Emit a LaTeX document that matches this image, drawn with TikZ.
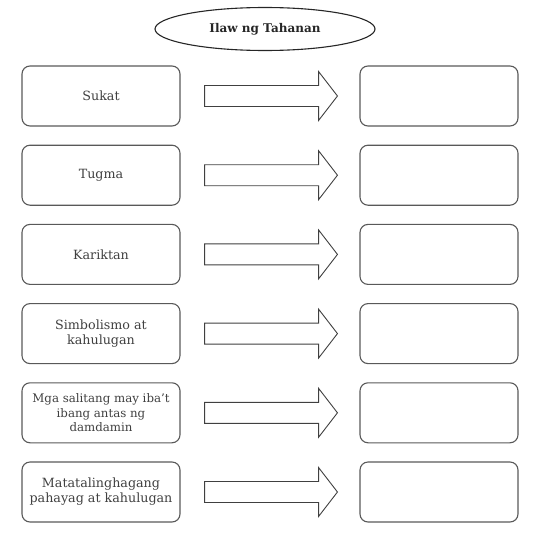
\documentclass[tikz,border=0pt]{standalone}
\usepackage{fontspec}
\setmainfont{DejaVu Serif}
\usetikzlibrary{shapes.geometric,calc}
\begin{document}
\begin{tikzpicture}[x=1pt, y=-1pt, font=\fontsize{12.7}{15}\selectfont]
        \tikzset{
            titlebox/.style={ellipse, draw=black!85, line width=1.1pt, minimum width=220pt, minimum height=43pt, inner sep=0pt, font=\fontsize{12}{14}\selectfont\bfseries, text=black!85},
            topicbox/.style={draw=black!65, rounded corners=8pt, line width=1.1pt, minimum width=158pt, minimum height=60pt, align=center, text=black!75, inner sep=2pt},
            answerbox/.style={draw=black!65, rounded corners=8pt, line width=1.1pt, minimum width=158pt, minimum height=60pt},
            blockarrow/.style={draw=black!75, line width=0.9pt, fill=white}
        }

        \useasboundingbox (0,0) rectangle (545,535);

        % pamagat
        \node[titlebox] (title) at (265,29) {Ilaw ng Tahanan};

        % kaliwang kahon
        \node[topicbox] (sukat) at (101,96) {Sukat};
        \node[topicbox] (tugma) at (101,175.2) {Tugma};
        \node[topicbox] (kariktan) at (101,254.4) {Kariktan};
        \node[topicbox] (simbolismo) at (101,333.6) {Simbolismo at\\kahulugan};
        \node[topicbox, font=\fontsize{11.8}{14.5}\selectfont] (salita) at (101,412.8) {Mga salitang may iba't\\ibang antas ng\\damdamin};
        \node[topicbox] (talinghaga) at (101,492) {Matatalinghagang\\pahayag at kahulugan};

        % kanang kahon
        \node[answerbox] (sukatR) at (439,96) {};
        \node[answerbox] (tugmaR) at (439,175.2) {};
        \node[answerbox] (kariktanR) at (439,254.4) {};
        \node[answerbox] (simbolismoR) at (439,333.6) {};
        \node[answerbox] (salitaR) at (439,412.8) {};
        \node[answerbox] (talinghagaR) at (439,492) {};

        % mga palaso
        \draw[blockarrow] ($(sukat.east)+(24,-10.5)$) -- ($(sukat.east)+(138,-10.5)$) -- ($(sukat.east)+(138,-24.5)$) -- ($(sukatR.west)+(-22,0)$) -- ($(sukat.east)+(138,24.5)$) -- ($(sukat.east)+(138,10.5)$) -- ($(sukat.east)+(24,10.5)$) -- cycle;
        \draw[blockarrow] ($(tugma.east)+(24,-10.5)$) -- ($(tugma.east)+(138,-10.5)$) -- ($(tugma.east)+(138,-24.5)$) -- ($(tugmaR.west)+(-22,0)$) -- ($(tugma.east)+(138,24.5)$) -- ($(tugma.east)+(138,10.5)$) -- ($(tugma.east)+(24,10.5)$) -- cycle;
        \draw[blockarrow] ($(kariktan.east)+(24,-10.5)$) -- ($(kariktan.east)+(138,-10.5)$) -- ($(kariktan.east)+(138,-24.5)$) -- ($(kariktanR.west)+(-22,0)$) -- ($(kariktan.east)+(138,24.5)$) -- ($(kariktan.east)+(138,10.5)$) -- ($(kariktan.east)+(24,10.5)$) -- cycle;
        \draw[blockarrow] ($(simbolismo.east)+(24,-10.5)$) -- ($(simbolismo.east)+(138,-10.5)$) -- ($(simbolismo.east)+(138,-24.5)$) -- ($(simbolismoR.west)+(-22,0)$) -- ($(simbolismo.east)+(138,24.5)$) -- ($(simbolismo.east)+(138,10.5)$) -- ($(simbolismo.east)+(24,10.5)$) -- cycle;
        \draw[blockarrow] ($(salita.east)+(24,-10.5)$) -- ($(salita.east)+(138,-10.5)$) -- ($(salita.east)+(138,-24.5)$) -- ($(salitaR.west)+(-22,0)$) -- ($(salita.east)+(138,24.5)$) -- ($(salita.east)+(138,10.5)$) -- ($(salita.east)+(24,10.5)$) -- cycle;
        \draw[blockarrow] ($(talinghaga.east)+(24,-10.5)$) -- ($(talinghaga.east)+(138,-10.5)$) -- ($(talinghaga.east)+(138,-24.5)$) -- ($(talinghagaR.west)+(-22,0)$) -- ($(talinghaga.east)+(138,24.5)$) -- ($(talinghaga.east)+(138,10.5)$) -- ($(talinghaga.east)+(24,10.5)$) -- cycle;
    \end{tikzpicture}
\end{document}
